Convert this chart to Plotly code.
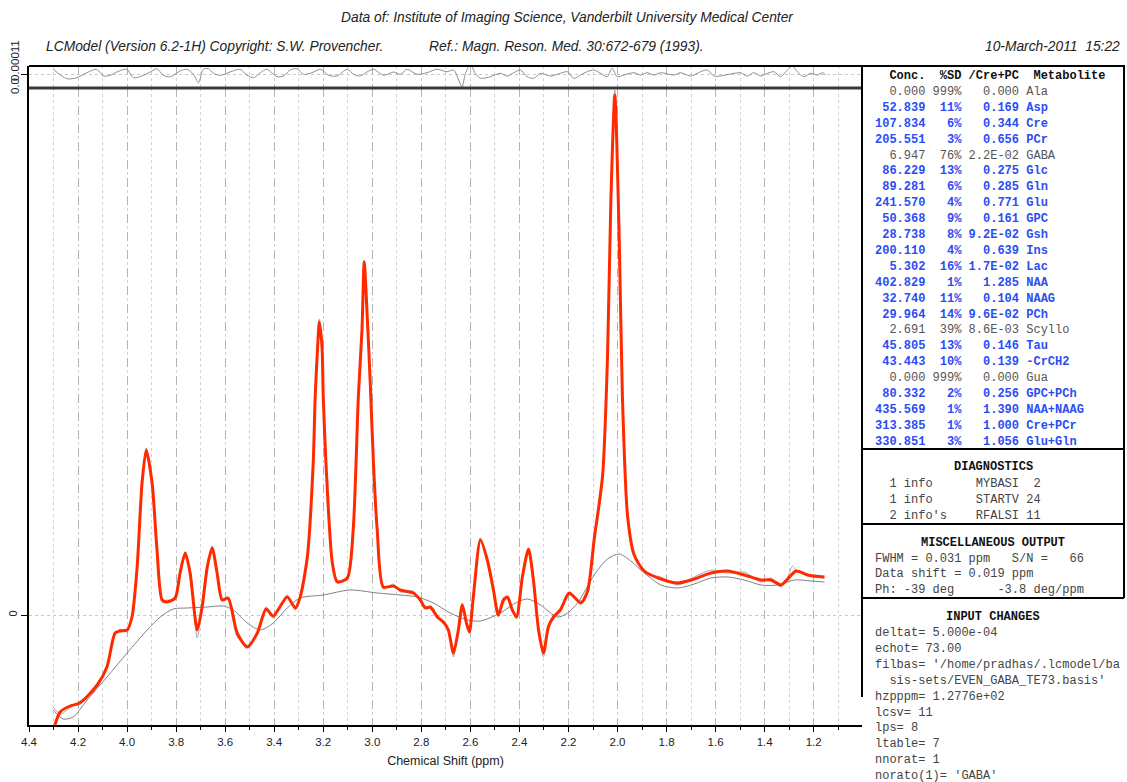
import plotly.graph_objects as go

W, H = 1127, 782

# ---------------- data (ppm, intensity) ----------------
fit_pts = [(4.294,-1.10),(4.273,-0.97),(4.233,-0.91),(4.192,-0.88),(4.122,-0.70),(4.082,-0.52),(4.049,-0.18),(4.029,-0.16),(4.000,-0.15),(3.980,-0.02),(3.959,0.48),(3.939,1.32),(3.922,1.65),(3.898,1.32),(3.878,0.65),(3.857,0.15),(3.837,0.13),(3.804,0.17),(3.784,0.42),(3.763,0.62),(3.743,0.42),(3.714,-0.15),(3.694,0.08),(3.673,0.48),(3.653,0.67),(3.633,0.42),(3.612,0.15),(3.588,0.17),(3.551,-0.18),(3.510,-0.32),(3.469,-0.18),(3.433,0.06),(3.404,-0.01),(3.347,0.18),(3.314,0.07),(3.294,0.18),(3.265,0.58),(3.241,1.52),(3.233,2.18),(3.223,2.68),(3.216,2.93),(3.205,2.68),(3.200,2.18),(3.189,1.52),(3.163,0.52),(3.143,0.33),(3.102,0.37),(3.078,0.85),(3.057,2.18),(3.042,2.85),(3.033,3.53),(3.020,2.95),(3.008,2.30),(2.995,1.50),(2.980,0.85),(2.955,0.28),(2.914,0.29),(2.886,0.25),(2.833,0.22),(2.804,0.15),(2.784,0.07),(2.763,0.08),(2.735,-0.02),(2.710,-0.07),(2.690,-0.15),(2.669,-0.38),(2.649,-0.15),(2.633,0.10),(2.616,-0.08),(2.604,-0.17),(2.588,0.18),(2.559,0.75),(2.531,0.55),(2.506,0.25),(2.486,0.00),(2.465,0.15),(2.449,0.18),(2.429,0.05),(2.412,-0.02),(2.388,0.38),(2.363,0.66),(2.343,0.35),(2.322,-0.15),(2.302,-0.38),(2.282,-0.12),(2.261,-0.02),(2.233,0.05),(2.197,0.22),(2.150,0.12),(2.122,0.24),(2.095,0.76),(2.061,1.39),(2.041,2.57),(2.027,4.16),(2.011,5.20),(1.993,3.76),(1.980,2.18),(1.959,0.99),(1.932,0.60),(1.891,0.44),(1.823,0.36),(1.755,0.32),(1.687,0.36),(1.619,0.42),(1.551,0.44),(1.483,0.40),(1.415,0.35),(1.374,0.35),(1.333,0.30),(1.306,0.36),(1.272,0.44),(1.224,0.40),(1.156,0.38)]

data_pts = [(4.302,-0.92),(4.273,-0.99),(4.233,-0.93),(4.192,-0.86),(4.122,-0.72),(4.082,-0.50),(4.049,-0.20),(4.029,-0.14),(4.000,-0.17),(3.980,-0.01),(3.959,0.50),(3.939,1.30),(3.922,1.67),(3.898,1.30),(3.878,0.66),(3.857,0.13),(3.837,0.15),(3.804,0.15),(3.784,0.44),(3.763,0.60),(3.743,0.44),(3.714,-0.23),(3.694,0.10),(3.673,0.46),(3.653,0.69),(3.633,0.40),(3.612,0.17),(3.588,0.15),(3.551,-0.22),(3.510,-0.30),(3.469,-0.20),(3.433,0.08),(3.404,-0.03),(3.347,0.20),(3.314,0.05),(3.294,0.19),(3.265,0.56),(3.241,1.55),(3.233,2.15),(3.223,2.70),(3.216,2.96),(3.205,2.66),(3.200,2.20),(3.189,1.50),(3.163,0.50),(3.143,0.35),(3.102,0.35),(3.078,0.87),(3.057,2.16),(3.042,2.87),(3.033,3.55),(3.020,2.93),(3.008,2.32),(2.995,1.48),(2.980,0.90),(2.955,0.26),(2.914,0.31),(2.886,0.23),(2.833,0.24),(2.804,0.13),(2.784,0.09),(2.763,0.06),(2.735,0.00),(2.710,-0.09),(2.690,-0.13),(2.669,-0.42),(2.649,-0.13),(2.633,0.12),(2.616,-0.10),(2.604,-0.15),(2.588,0.20),(2.559,0.77),(2.531,0.53),(2.506,0.27),(2.486,-0.02),(2.465,0.17),(2.449,0.16),(2.429,0.07),(2.412,-0.04),(2.388,0.40),(2.363,0.64),(2.343,0.37),(2.322,-0.17),(2.302,-0.42),(2.282,-0.10),(2.261,-0.04),(2.233,0.07),(2.197,0.20),(2.150,0.14),(2.122,0.22),(2.095,0.78),(2.061,1.37),(2.041,2.59),(2.027,4.14),(2.011,5.25),(1.993,3.74),(1.980,2.20),(1.959,0.97),(1.932,0.62),(1.891,0.42),(1.823,0.38),(1.755,0.30),(1.687,0.38),(1.619,0.45),(1.551,0.42),(1.483,0.43),(1.415,0.33),(1.374,0.37),(1.333,0.28),(1.306,0.38),(1.287,0.49),(1.272,0.45),(1.224,0.39),(1.156,0.37)]

base_pts = [(4.302,-0.95),(4.261,-1.04),(4.220,-1.02),(4.163,-0.85),(4.082,-0.62),(4.000,-0.38),(3.918,-0.15),(3.865,-0.02),(3.812,0.06),(3.755,0.07),(3.673,0.08),(3.608,0.09),(3.567,0.05),(3.510,-0.08),(3.457,-0.15),(3.404,-0.08),(3.347,0.07),(3.294,0.17),(3.200,0.20),(3.090,0.25),(2.980,0.22),(2.886,0.20),(2.816,0.18),(2.751,0.12),(2.682,0.02),(2.612,-0.05),(2.559,-0.06),(2.478,0.02),(2.408,0.13),(2.367,0.16),(2.314,0.10),(2.245,-0.02),(2.204,0.02),(2.163,0.12),(2.095,0.40),(2.041,0.56),(1.993,0.61),(1.946,0.54),(1.891,0.42),(1.823,0.30),(1.755,0.27),(1.687,0.31),(1.619,0.37),(1.551,0.38),(1.483,0.35),(1.415,0.30),(1.347,0.30),(1.279,0.35),(1.211,0.34),(1.156,0.33)]

res_pts = [(4.301,0.052),(4.246,-0.042),(4.205,-0.032),(4.164,0.018),(4.124,0.052),(4.097,-0.015),(4.069,-0.008),(4.042,0.025),(4.001,0.052),(3.974,-0.032),(3.933,-0.008),(3.906,0.025),(3.879,0.058),(3.852,-0.008),(3.824,-0.022),(3.784,0.035),(3.756,0.052),(3.729,0.002),(3.709,-0.082),(3.689,0.052),(3.668,0.058),(3.648,0.012),(3.620,-0.008),(3.580,0.025),(3.539,0.052),(3.511,-0.008),(3.484,-0.032),(3.457,0.018),(3.430,0.052),(3.389,-0.022),(3.362,-0.015),(3.335,0.045),(3.307,0.058),(3.280,0.002),(3.246,0.018),(3.212,0.052),(3.178,-0.008),(3.144,-0.015),(3.103,0.052),(3.076,0.002),(3.049,-0.015),(3.022,0.025),(2.995,0.052),(2.954,-0.008),(2.913,0.025),(2.886,0.002),(2.858,0.052),(2.818,0.002),(2.777,0.018),(2.736,0.052),(2.695,0.028),(2.668,0.045),(2.648,-0.055),(2.634,-0.122),(2.620,0.012),(2.600,0.100),(2.580,0.012),(2.559,-0.038),(2.518,-0.022),(2.478,0.012),(2.450,-0.015),(2.423,0.018),(2.396,0.045),(2.369,-0.022),(2.342,-0.038),(2.314,0.012),(2.273,-0.015),(2.233,0.012),(2.205,0.028),(2.178,-0.038),(2.151,-0.005),(2.124,0.028),(2.097,0.045),(2.069,0.012),(2.042,-0.022),(2.022,0.062),(2.001,-0.022),(1.974,-0.005),(1.933,0.018),(1.906,-0.005),(1.879,0.018),(1.852,-0.005),(1.824,0.018),(1.770,-0.005),(1.743,0.018),(1.702,-0.015),(1.661,0.028),(1.634,0.045),(1.607,-0.015),(1.580,-0.015),(1.539,0.005),(1.498,0.018),(1.471,-0.015),(1.444,0.018),(1.416,-0.015),(1.389,0.012),(1.362,0.028),(1.335,-0.022),(1.307,0.045),(1.287,0.085),(1.267,0.028),(1.240,-0.022),(1.212,0.012),(1.185,-0.005),(1.164,0.018),(1.151,-0.005)]

x_tick_vals = [4.4, 4.2, 4.0, 3.8, 3.6, 3.4, 3.2, 3.0, 2.8, 2.6, 2.4, 2.2, 2.0, 1.8, 1.6, 1.4, 1.2]
x_tick_text = ["4.4", "4.2", "4.0", "3.8", "3.6", "3.4", "3.2", "3.0", "2.8", "2.6", "2.4", "2.2", "2.0", "1.8", "1.6", "1.4", "1.2"]

metabolites = ["Ala", "Asp", "Cre", "PCr", "GABA", "Glc", "Gln", "Glu", "GPC", "Gsh", "Ins", "Lac", "NAA", "NAAG", "PCh", "Scyllo", "Tau", "-CrCH2", "Gua", "GPC+PCh", "NAA+NAAG", "Cre+PCr", "Glu+Gln"]
conc = ["0.000", "52.839", "107.834", "205.551", "6.947", "86.229", "89.281", "241.570", "50.368", "28.738", "200.110", "5.302", "402.829", "32.740", "29.964", "2.691", "45.805", "43.443", "0.000", "80.332", "435.569", "313.385", "330.851"]
sd_pct = [999, 11, 6, 3, 76, 13, 6, 4, 9, 8, 4, 16, 1, 11, 14, 39, 13, 10, 999, 2, 1, 1, 3]
ratio = ["0.000", "0.169", "0.344", "0.656", "2.2E-02", "0.275", "0.285", "0.771", "0.161", "9.2E-02", "0.639", "1.7E-02", "1.285", "0.104", "9.6E-02", "8.6E-03", "0.146", "0.139", "0.000", "0.256", "1.390", "1.000", "1.056"]

diagnostics = ["  1 info      MYBASI  2", "  1 info      STARTV 24", "  2 info's    RFALSI 11"]
misc_output = ["FWHM = 0.031 ppm   S/N =   66", "Data shift = 0.019 ppm", "Ph: -39 deg      -3.8 deg/ppm"]
input_changes = ["deltat= 5.000e-04", "echot= 73.00", "filbas= '/home/pradhas/.lcmodel/ba",
                 "  sis-sets/EVEN_GABA_TE73.basis'", "hzpppm= 1.2776e+02", "lcsv= 11", "lps= 8",
                 "ltable= 7", "nnorat= 1", "norato(1)= 'GABA'"]

# ---------------- helpers ----------------
def px(x):
    return x / W

def py(y):
    return 1 - y / H

def nb(s):
    return s.replace(" ", "\u00a0")

MONO = "Liberation Mono, Courier New, monospace"
SANS = "Liberation Sans Narrow, Liberation Sans, Arial, sans-serif"

def xs(p):
    return [a for a, b in p]

def ys(p):
    return [b for a, b in p]

fig = go.Figure()
fig.add_trace(go.Scatter(x=xs(base_pts), y=ys(base_pts), mode="lines",
                         line=dict(color="#808080", width=1, shape="spline", smoothing=0.8),
                         xaxis="x", yaxis="y", hoverinfo="skip"))
fig.add_trace(go.Scatter(x=xs(data_pts), y=ys(data_pts), mode="lines",
                         line=dict(color="#a8a8a8", width=1, shape="spline", smoothing=0.7),
                         xaxis="x", yaxis="y", hoverinfo="skip"))
fig.add_trace(go.Scatter(x=xs(fit_pts), y=ys(fit_pts), mode="lines",
                         line=dict(color="#ff2a00", width=3, shape="spline", smoothing=0.7),
                         xaxis="x", yaxis="y", hoverinfo="skip"))
fig.add_trace(go.Scatter(x=xs(res_pts), y=ys(res_pts), mode="lines",
                         line=dict(color="#909090", width=1, shape="spline", smoothing=0.8),
                         xaxis="x2", yaxis="y2", hoverinfo="skip"))

xdom = [px(29), px(862)]
grid_major = dict(showgrid=True, gridcolor="#b4b4b4", griddash="dash", gridwidth=1)
minor = dict(dtick=0.1, tick0=0, ticks="outside", ticklen=3, tickcolor="#000",
             showgrid=True, gridcolor="#d2d2d2", griddash="dot", gridwidth=1)

fig.update_layout(
    width=W, height=H, margin=dict(l=0, r=0, t=0, b=0, autoexpand=False),
    paper_bgcolor="white", plot_bgcolor="white", showlegend=False,
    xaxis=dict(domain=xdom, range=[4.4, 1.003], anchor="y", automargin=False,
               tickmode="array", tickvals=x_tick_vals, ticktext=x_tick_text,
               ticks="outside", ticklen=5, tickcolor="#000", tickwidth=1,
               tickfont=dict(family=SANS, size=11.5, color="#222"),
               showline=True, linecolor="#000", linewidth=2, zeroline=False,
               minor=minor, **grid_major,
               title=dict(text="Chemical Shift (ppm)", standoff=9,
                          font=dict(family=SANS, size=12.5, color="#222"))),
    yaxis=dict(domain=[py(725), py(88)], range=[-1.10, 5.27], anchor="x", automargin=False,
               tickmode="array", tickvals=[0], ticktext=["0"], tickangle=-90,
               ticks="outside", ticklen=6, tickcolor="#000",
               tickfont=dict(family=SANS, size=11, color="#222"),
               showline=True, linecolor="#000", linewidth=2, zeroline=False,
               showgrid=True, gridcolor="#c8c8c8", griddash="dot"),
    xaxis2=dict(domain=xdom, range=[4.4, 1.003], anchor="y2", matches="x", automargin=False,
                tickmode="array", tickvals=x_tick_vals, showticklabels=False,
                ticks="", showline=False, zeroline=False,
                minor=dict(dtick=0.1, tick0=0, showgrid=True, gridcolor="#d2d2d2",
                           griddash="dot", gridwidth=1),
                **grid_major),
    yaxis2=dict(domain=[py(88), py(66)], range=[-0.135, 0.085], anchor="x2", automargin=False,
                tickmode="array", tickvals=[0], showticklabels=False,
                ticks="outside", ticklen=6, tickcolor="#000",
                showline=True, linecolor="#000", linewidth=2, zeroline=False,
                showgrid=True, gridcolor="#c8c8c8", griddash="dot"),
)

shapes = []
def hline(y, x0, x1, color="#000", width=2):
    shapes.append(dict(type="line", xref="paper", yref="paper", x0=px(x0), x1=px(x1),
                       y0=py(y), y1=py(y), line=dict(color=color, width=width)))

def vline(x, y0, y1, color="#000", width=2):
    shapes.append(dict(type="line", xref="paper", yref="paper", x0=px(x), x1=px(x),
                       y0=py(y0), y1=py(y1), line=dict(color=color, width=width)))

hline(66, 29, 1125)
hline(88, 29, 862, color="#3a3a3a", width=3)
vline(862, 66, 697)
vline(1124, 66, 598)
hline(449, 862, 1124)
hline(524, 862, 1124)
hline(598, 862, 1124)
fig.update_layout(shapes=shapes)

ann = []
def text(x, y, s, anchor="left", size=12, family=MONO, color="#333", angle=0):
    ann.append(dict(x=px(x), y=py(y), xref="paper", yref="paper", text=s, showarrow=False,
                    xanchor=anchor, yanchor="middle", textangle=angle,
                    font=dict(family=family, size=size, color=color)))

# header lines
HS = 13.8
text(567, 18, "<i>Data of: Institute of Imaging Science, Vanderbilt University Medical Center</i>",
     anchor="center", family=SANS, size=HS, color="#222")
text(44, 46, "<i>LCModel (Version 6.2-1H) Copyright: S.W. Provencher.</i>", family=SANS, size=HS, color="#222")
text(427, 46, "<i>Ref.: Magn. Reson. Med. 30:672-679 (1993).</i>", family=SANS, size=HS, color="#222")
text(1122, 46, "<i>10-March-2011  15:22</i>", anchor="right", family=SANS, size=HS, color="#222")

# residual axis labels (rotated)
text(15, 61, "0.00011", anchor="center", family=SANS, size=11.5, color="#222", angle=-90)
text(15, 86, "0.0", anchor="center", family=SANS, size=11.5, color="#222", angle=-90)

# concentration table
text(873, 76, "<b>" + nb("  Conc.  %SD /Cre+PC  Metabolite") + "</b>", color="#111")
for i, name in enumerate(metabolites):
    sd = f"{sd_pct[i]}%"
    row = f"{conc[i]:>7} {sd:>4}{ratio[i]:>8} {name}"
    yy = 76 + 15.9 * (i + 1)
    if sd_pct[i] > 20:
        text(873, yy, nb(row), color="#555555")
    else:
        text(873, yy, "<b>" + nb(row) + "</b>", color="#2a4df5")

# diagnostics
text(993, 467, "<b>DIAGNOSTICS</b>", anchor="center", color="#111")
for i, s in enumerate(diagnostics):
    text(873, 484 + 15.8 * i, nb(s), color="#444")

text(993, 543, "<b>MISCELLANEOUS OUTPUT</b>", anchor="center", color="#111")
for i, s in enumerate(misc_output):
    text(873, 558.5 + 15.8 * i, nb(s), color="#444")

text(993, 617, "<b>INPUT CHANGES</b>", anchor="center", color="#111")
for i, s in enumerate(input_changes):
    text(873, 633 + 15.9 * i, nb(s), color="#444")

fig.update_layout(annotations=ann)

fig.write_html("out.html", config={"displayModeBar": False},
               post_script="document.body.style.margin='0';")
